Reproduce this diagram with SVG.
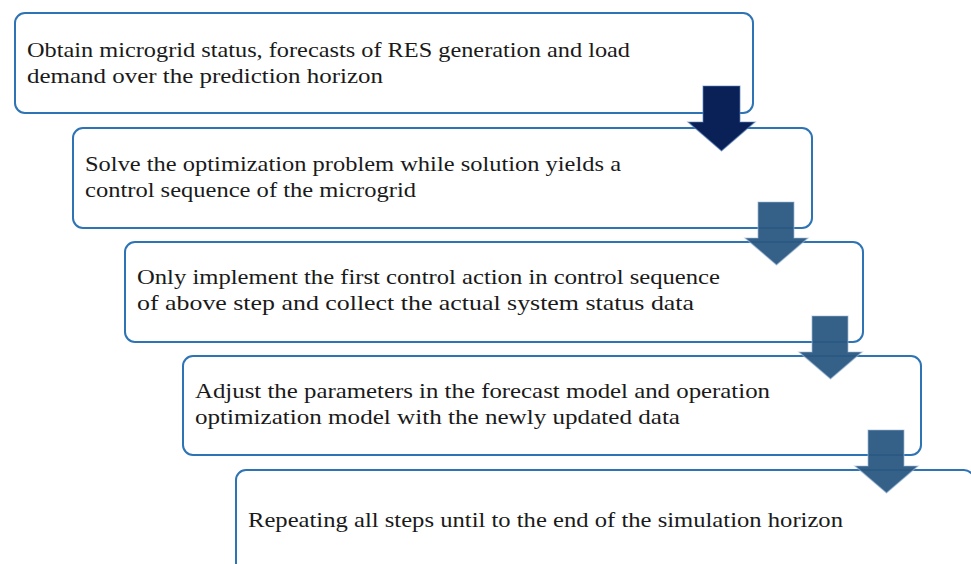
<svg xmlns="http://www.w3.org/2000/svg" width="971" height="564" viewBox="0 0 971 564">
<style>
.box{fill:#fff;stroke:#2e74b5;stroke-width:2}
.t{font-family:"Liberation Serif","DejaVu Serif",serif;font-size:22px;fill:#1a1a1a}
.a1{fill:#0a2157;stroke:#5b86c0;stroke-width:1.2;stroke-opacity:0.6}
.a2{fill:#2a5782;fill-opacity:0.95;stroke:#9db7d5;stroke-width:1.2;stroke-opacity:0.6}
</style>
<g id="step1">
<rect class="box" x="15" y="13" width="738" height="100" rx="10"/>
<text class="t" x="27" y="57" textLength="603" lengthAdjust="spacingAndGlyphs">Obtain microgrid status, forecasts of RES generation and load</text>
<text class="t" x="27" y="83" textLength="356" lengthAdjust="spacingAndGlyphs">demand over the prediction horizon</text>
</g>
<g id="step2">
<rect class="box" x="73" y="128" width="739" height="100" rx="10"/>
<text class="t" x="85" y="171" textLength="536" lengthAdjust="spacingAndGlyphs">Solve the optimization problem while solution yields a</text>
<text class="t" x="85" y="197" textLength="331" lengthAdjust="spacingAndGlyphs">control sequence of the microgrid</text>
</g>
<g id="step3">
<rect class="box" x="125" y="242" width="738" height="100" rx="10"/>
<text class="t" x="137" y="284" textLength="583" lengthAdjust="spacingAndGlyphs">Only implement the first control action in control sequence</text>
<text class="t" x="137" y="310" textLength="557" lengthAdjust="spacingAndGlyphs">of above step and collect the actual system status data</text>
</g>
<g id="step4">
<rect class="box" x="183" y="356" width="738" height="99" rx="10"/>
<text class="t" x="195" y="398" textLength="575" lengthAdjust="spacingAndGlyphs">Adjust the parameters in the forecast model and operation</text>
<text class="t" x="195" y="424" textLength="485" lengthAdjust="spacingAndGlyphs">optimization model with the newly updated data</text>
</g>
<g id="step5">
<rect class="box" x="236" y="470" width="738" height="110" rx="10"/>
<text class="t" x="248" y="527" textLength="595" lengthAdjust="spacingAndGlyphs">Repeating all steps until to the end of the simulation horizon</text>
</g>
<g id="connectors">
<polygon class="a1" points="703,86 740,86 740,122 755,122 721.5,151 688,122 703,122"/>
<polygon class="a2" points="758,202 794,202 794,238 808,238 776.5,265 745,238 758,238"/>
<polygon class="a2" points="812,316 848,316 848,352 862,352 830.5,379 799,352 812,352"/>
<polygon class="a2" points="868,430 904,430 904,466 918,466 886.5,493 855,466 868,466"/>
</g>
</svg>
